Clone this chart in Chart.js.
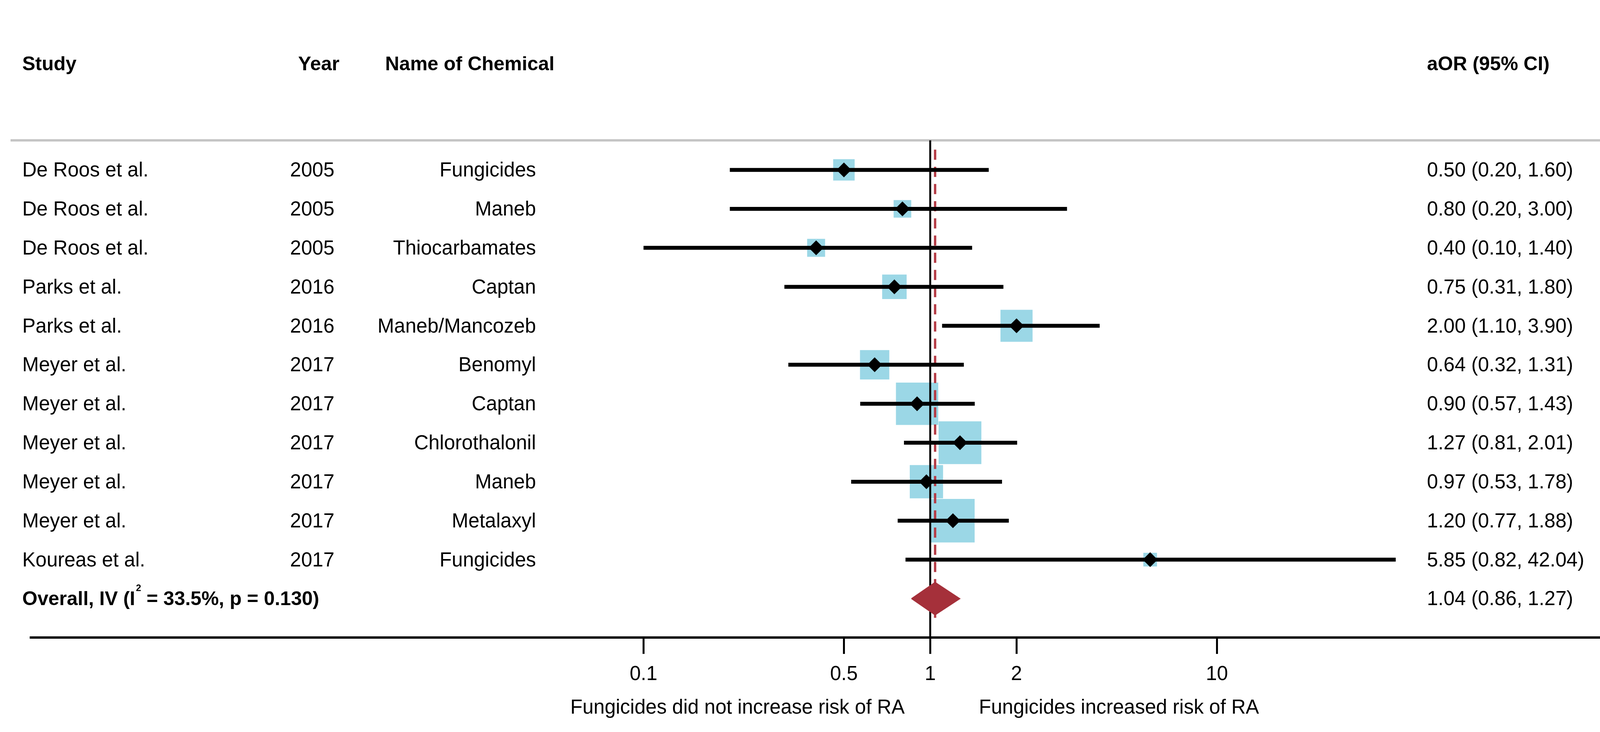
<!DOCTYPE html>
<html>
<head>
<meta charset="utf-8">
<script src="https://cdn.jsdelivr.net/npm/chart.js@4.4.1/dist/chart.umd.min.js"></script>
<style>
html,body{margin:0;padding:0;background:#ffffff;}
canvas{display:block;}
</style>
</head>
<body>
<canvas id="forest" width="4429" height="1875" style="width:4429px;height:1875px"></canvas>
<script>
// ---------------- DATA ----------------
const studies = ["De Roos et al.", "De Roos et al.", "De Roos et al.", "Parks et al.", "Parks et al.",
  "Meyer et al.", "Meyer et al.", "Meyer et al.", "Meyer et al.", "Meyer et al.", "Koureas et al."];
const years = [2005, 2005, 2005, 2016, 2016, 2017, 2017, 2017, 2017, 2017, 2017];
const chemicals = ["Fungicides", "Maneb", "Thiocarbamates", "Captan", "Maneb/Mancozeb",
  "Benomyl", "Captan", "Chlorothalonil", "Maneb", "Metalaxyl", "Fungicides"];
const aor = [0.50, 0.80, 0.40, 0.75, 2.00, 0.64, 0.90, 1.27, 0.97, 1.20, 5.85];
const ciLow = [0.20, 0.20, 0.10, 0.31, 1.10, 0.32, 0.57, 0.81, 0.53, 0.77, 0.82];
const ciHigh = [1.60, 3.00, 1.40, 1.80, 3.90, 1.31, 1.43, 2.01, 1.78, 1.88, 42.04];
const weights = [3.64, 2.15, 2.26, 5.09, 9.82, 7.92, 18.60, 19.05, 10.72, 19.75, 1.02];

const overallOR = 1.04;
const overallLow = 0.86;
const overallHigh = 1.27;
const overallWeight = 100.00;
const overallI2 = "33.5%";
const overallP = "0.130";

const tickValues = [0.1, 0.5, 1, 2, 10];
const tickLabels = ["0.1", "0.5", "1", "2", "10"];
const nullValue = 1;

const headers = { study: "Study", year: "Year", chem: "Name of Chemical", aor: "aOR (95% CI)", pct: "%", weight: "Weight" };
const leftNote = "Fungicides did not increase risk of RA";
const rightNote = "Fungicides increased risk of RA";

// ---------------- LAYOUT / STYLE ----------------
const W = 4429, H = 1875;
const plotLeft = 28, plotRight = 4393, axisY = 1633;
const onePx = 2381, decadePx = 750;
const xMin = Math.pow(10, (plotLeft - onePx) / decadePx);
const xMax = Math.pow(10, (plotRight - onePx) / decadePx);
const row0 = 374.5, rowStep = 104.9;
const yMin = -row0 / rowStep;
const yMax = (axisY - row0) / rowStep;
const overallRow = studies.length;
const headerRuleRow = (295 - row0) / rowStep;
const dashTopRow = (320 - row0) / rowStep;
const dashBottomRow = (1580 - row0) / rowStep;
const diamondHalf = 44 / rowStep;

const FONT = '"Liberation Sans", Arial, Helvetica, sans-serif';
const BOX_COLOR = '#9bd7e6';
const OVERALL_COLOR = '#a5303a';
const DASH_COLOR = '#b43c46';

const n = studies.length;
const fmt = v => v.toFixed(2);

// ---------------- DATASETS ----------------
const datasets = [];
// weight boxes
datasets.push({
  label: 'weights',
  data: aor.map((v, i) => ({ x: v, y: i })),
  showLine: false,
  pointStyle: 'rect',
  pointRadius: weights.map(w => (12.6 + 22.2 * Math.sqrt(w)) / Math.SQRT2),
  pointBackgroundColor: BOX_COLOR,
  pointBorderWidth: 0,
  pointBorderColor: BOX_COLOR,
  order: 6
});
// null line at 1
datasets.push({
  label: 'null',
  data: [{ x: nullValue, y: headerRuleRow }, { x: nullValue, y: yMax }],
  showLine: true, borderColor: '#000000', borderWidth: 5, pointRadius: 0, order: 5
});
// overall dashed line
datasets.push({
  label: 'overallLine',
  data: [{ x: overallOR, y: dashTopRow }, { x: overallOR, y: dashBottomRow }],
  showLine: true, borderColor: DASH_COLOR, borderWidth: 6, borderDash: [26, 18], pointRadius: 0, order: 4
});
// overall diamond
datasets.push({
  label: 'overallDiamond',
  data: [
    { x: overallLow, y: overallRow },
    { x: overallOR, y: overallRow - diamondHalf },
    { x: overallHigh, y: overallRow },
    { x: overallOR, y: overallRow + diamondHalf },
    { x: overallLow, y: overallRow }
  ],
  showLine: true, fill: 'shape', backgroundColor: OVERALL_COLOR, borderColor: OVERALL_COLOR,
  borderWidth: 2, pointRadius: 0, tension: 0, order: 3
});
// CI lines
for (let i = 0; i < n; i++) {
  datasets.push({
    label: 'ci' + i,
    data: [{ x: ciLow[i], y: i }, { x: ciHigh[i], y: i }],
    showLine: true, borderColor: '#000000', borderWidth: 10, borderCapStyle: 'butt',
    pointRadius: 0, order: 2
  });
}
// point estimates
datasets.push({
  label: 'estimates',
  data: aor.map((v, i) => ({ x: v, y: i })),
  showLine: false,
  pointStyle: 'rectRot',
  pointRadius: 19,
  pointBackgroundColor: '#000000',
  pointBorderWidth: 0,
  order: 1
});

// ---------------- TEXT PLUGIN ----------------
const tablePlugin = {
  id: 'tablePlugin',
  beforeDatasetsDraw(chart) {
    const ctx = chart.ctx;
    const yS = chart.scales.y;
    const y = yS.getPixelForValue(headerRuleRow);
    ctx.save();
    ctx.strokeStyle = '#c4c4c4';
    ctx.lineWidth = 6;
    ctx.beginPath();
    ctx.moveTo(27, y);
    ctx.lineTo(4380, y);
    ctx.stroke();
    ctx.restore();
  },
  afterDraw(chart) {
    const ctx = chart.ctx;
    const yS = chart.scales.y;
    ctx.save();
    ctx.fillStyle = '#000000';
    ctx.textBaseline = 'alphabetic';
    const bold = 'bold 50px ' + FONT;
    const reg = '51px ' + FONT;
    // headers
    ctx.font = bold;
    const hb = 180;
    ctx.textAlign = 'left';
    ctx.fillText(headers.study, 57, hb);
    ctx.fillText(headers.chem, 986, hb);
    ctx.fillText(headers.aor, 3653, hb);
    ctx.textAlign = 'right';
    ctx.fillText(headers.year, 869, hb);
    ctx.fillText(headers.weight, 4360, hb);
    ctx.fillText(headers.pct, 4360, 76);
    // rows
    ctx.font = reg;
    for (let i = 0; i < n; i++) {
      const b = yS.getPixelForValue(i) + 17;
      ctx.textAlign = 'left';
      ctx.fillText(studies[i], 57, b);
      ctx.fillText(fmt(aor[i]) + ' (' + fmt(ciLow[i]) + ', ' + fmt(ciHigh[i]) + ')', 3653, b);
      ctx.textAlign = 'right';
      ctx.fillText(String(years[i]), 856, b);
      ctx.fillText(chemicals[i], 1372, b);
      ctx.fillText(fmt(weights[i]), 4358, b);
    }
    // overall row
    const ob = yS.getPixelForValue(overallRow) + 17;
    ctx.textAlign = 'left';
    ctx.font = bold;
    let x = 57;
    const p1 = 'Overall, IV (I';
    ctx.fillText(p1, x, ob);
    x += ctx.measureText(p1).width + 2;
    ctx.font = 'bold 24px ' + FONT;
    ctx.fillText('2', x, ob - 36);
    x += ctx.measureText('2').width;
    ctx.font = bold;
    ctx.fillText(' = ' + overallI2 + ', p = ' + overallP + ')', x, ob);
    ctx.font = reg;
    ctx.fillText(fmt(overallOR) + ' (' + fmt(overallLow) + ', ' + fmt(overallHigh) + ')', 3653, ob);
    ctx.textAlign = 'right';
    ctx.fillText(overallWeight.toFixed(2), 4358, ob);
    // bottom notes
    ctx.textAlign = 'left';
    ctx.fillText(leftNote, 1460, 1828);
    ctx.fillText(rightNote, 2506, 1828);
    ctx.restore();
  }
};

// ---------------- CHART ----------------
new Chart(document.getElementById('forest'), {
  type: 'scatter',
  data: { datasets },
  options: {
    responsive: false,
    animation: false,
    devicePixelRatio: 1,
    layout: { padding: { left: plotLeft, right: W - plotRight, top: 0, bottom: 0 } },
    plugins: { legend: { display: false }, tooltip: { enabled: false }, title: { display: false } },
    scales: {
      x: {
        type: 'logarithmic',
        position: 'bottom',
        min: xMin,
        max: xMax,
        afterFit: s => { s.height = H - axisY; },
        afterBuildTicks: s => { s.ticks = tickValues.map(v => ({ value: v })); },
        ticks: {
          autoSkip: false, maxRotation: 0, minRotation: 0, padding: 22, color: '#000000',
          font: { family: FONT, size: 51 },
          callback: (v, i) => tickLabels[i]
        },
        grid: { display: true, drawOnChartArea: false, drawTicks: true, tickLength: 42, tickWidth: 5, tickColor: '#000000' },
        border: { display: true, color: '#000000', width: 6 }
      },
      y: {
        type: 'linear',
        display: false,
        reverse: true,
        min: yMin,
        max: yMax
      }
    }
  },
  plugins: [tablePlugin]
});
</script>
</body>
</html>
